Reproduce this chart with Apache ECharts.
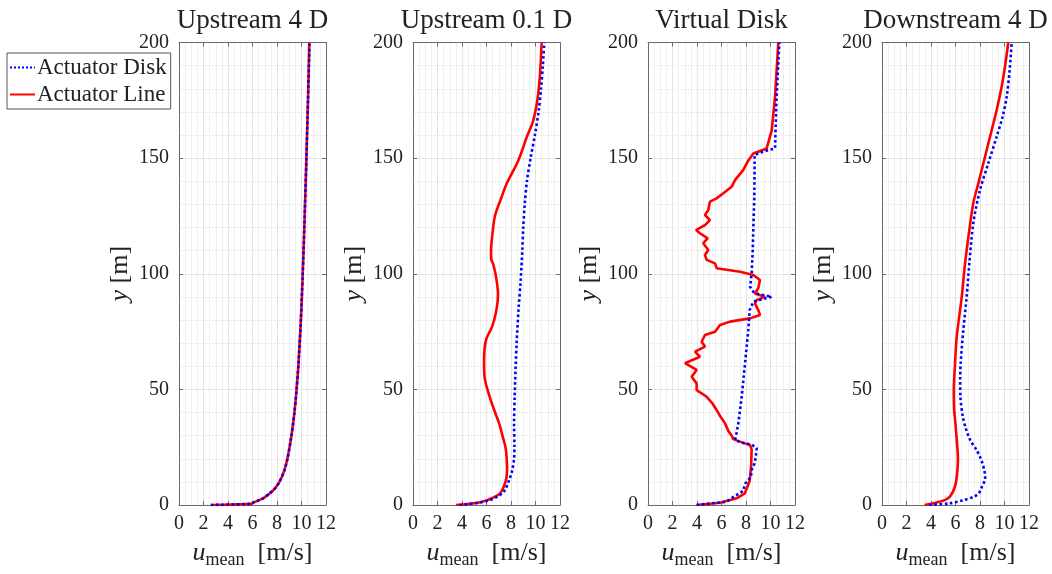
<!DOCTYPE html>
<html>
<head>
<meta charset="utf-8">
<script src="https://cdn.jsdelivr.net/npm/echarts@6/dist/echarts.min.js"></script>
<style>html,body{margin:0;padding:0;background:#fff}#c{width:1052px;height:574px}</style>
</head>
<body>
<div id="c"></div>
<script>
// ---------- data ----------
const panelTitles = ['Upstream 4 D', 'Upstream 0.1 D', 'Virtual Disk', 'Downstream 4 D'];
const xTicks = [0, 2, 4, 6, 8, 10, 12];
const yTicks = [0, 50, 100, 150, 200];

// Panel 1: Upstream 4 D
const up4_y    = [0, 0.5, 1, 2, 3, 5, 7, 10, 15, 20, 30, 40, 50, 60, 80, 100, 120, 150, 175, 200];
const up4_line = [2.6, 5.9, 6.05, 6.5, 6.9, 7.4, 7.8, 8.2, 8.6, 8.85, 9.18, 9.42, 9.6, 9.74, 9.95, 10.1, 10.23, 10.4, 10.53, 10.64];
const up4_disk = [2.6, 5.9, 6.05, 6.5, 6.9, 7.4, 7.8, 8.2, 8.6, 8.85, 9.18, 9.42, 9.6, 9.74, 9.95, 10.1, 10.23, 10.4, 10.53, 10.66];

// Panel 2: Upstream 0.1 D
const up01_line_y = [0, 1, 2.2, 5, 10, 15, 20, 25, 30, 35, 40, 47, 55, 62, 68, 72, 77, 84, 91, 98, 104, 106, 110, 117, 125, 133, 139, 149, 159, 166, 175, 185, 200];
const up01_line_u = [3.5, 5.3, 6.1, 7.1, 7.55, 7.68, 7.65, 7.55, 7.3, 7.05, 6.7, 6.25, 5.85, 5.8, 5.85, 6.0, 6.45, 6.8, 6.94, 6.8, 6.56, 6.4, 6.37, 6.48, 6.69, 7.22, 7.65, 8.6, 9.28, 9.8, 10.15, 10.35, 10.5];
const up01_disk_y = [0, 1, 2, 3.6, 6, 10.8, 15, 20, 25, 35, 47, 60, 70, 85, 97, 110, 120, 130, 140, 150, 160, 170, 180, 190, 200];
const up01_disk_u = [3.8, 5.4, 6.2, 6.9, 7.45, 7.85, 8.1, 8.25, 8.28, 8.25, 8.3, 8.38, 8.46, 8.62, 8.79, 8.92, 9.0, 9.12, 9.3, 9.6, 9.95, 10.25, 10.45, 10.6, 10.72];

// Panel 3: Virtual Disk
const vd_line_y = [0, 1, 2.9, 5, 10.5, 17, 24, 25.9, 27.4, 28.5, 30, 32, 35.3, 38.5, 41.1, 44, 46.8, 49.7, 52.6, 55.5, 58.4, 61.3, 64.1, 66.3, 68.5, 70.6, 73.5, 74.9, 77.8, 79.3, 80.7, 82.2, 84.3, 87.2, 88.6, 90.1, 91.5, 93.7, 97.3, 99.5, 100.9, 102.4, 104.5, 106, 108.1, 110.3, 113.2, 115.3, 117.5, 118.9, 121, 123.2, 125.4, 127.6, 131.2, 132.6, 134.8, 137.6, 140.5, 144.9, 149, 152, 154.2, 162, 176.6, 200];
const vd_line_u = [3.97, 5.88, 7.24, 7.9, 8.3, 8.42, 8.46, 8.33, 7.51, 6.96, 6.83, 6.56, 6.29, 5.88, 5.6, 5.25, 4.79, 3.97, 3.97, 3.56, 3.97, 3.02, 4.24, 3.84, 4.65, 4.38, 4.65, 5.47, 5.88, 6.69, 8.33, 9.14, 9.0, 8.73, 8.87, 9.55, 8.73, 9.0, 9.14, 8.6, 7.51, 5.6, 5.47, 4.79, 4.65, 4.92, 4.51, 4.87, 4.24, 3.92, 4.65, 5.06, 4.65, 4.92, 5.06, 5.6, 6.15, 6.83, 7.1, 7.78, 8.19, 8.6, 9.69, 10.1, 10.37, 10.64];
const vd_disk_y = [0, 1.4, 3.6, 6, 9.4, 12, 15.1, 18, 21, 24.5, 26, 27, 28.1, 31, 35.3, 46.8, 61.3, 75.7, 84.3, 87.9, 90.1, 91.2, 92.2, 94.4, 100.2, 110, 120, 133, 145, 151.4, 153, 154.2, 160, 176.6, 200];
const vd_disk_u = [3.97, 6.4, 7.0, 7.75, 7.95, 8.4, 8.46, 8.7, 8.8, 8.87, 8.5, 7.6, 7.1, 7.22, 7.37, 7.65, 7.92, 8.19, 8.3, 8.6, 10.1, 9.0, 8.6, 8.33, 8.46, 8.55, 8.6, 8.68, 8.7, 8.7, 9.5, 10.37, 10.4, 10.5, 10.72];

// Panel 4: Downstream 4 D
const dn4_line_y = [0, 1, 2.2, 4, 7.9, 12, 20, 27, 35, 42, 50, 60, 72.8, 90, 104.5, 118.9, 130.5, 139, 150.6, 162, 170.8, 181, 190, 200];
const dn4_line_u = [3.48, 4.4, 5.17, 5.6, 5.95, 6.1, 6.2, 6.12, 6.0, 5.88, 5.86, 5.95, 6.1, 6.51, 6.78, 7.13, 7.45, 7.86, 8.41, 8.95, 9.36, 9.77, 10.05, 10.31];
const dn4_disk_y = [0, 0.7, 2, 3.6, 5, 7.2, 10.8, 12.2, 15, 18, 20.2, 24, 28.1, 33, 38.2, 46.8, 55, 61.3, 75.7, 90.1, 104.5, 121.8, 136.2, 147.8, 159.3, 168, 176.6, 188, 200];
const dn4_disk_u = [3.85, 5.5, 6.6, 7.5, 7.9, 8.1, 8.4, 8.42, 8.35, 8.2, 8.05, 7.7, 7.2, 6.85, 6.6, 6.4, 6.38, 6.42, 6.64, 6.91, 7.13, 7.45, 8.0, 8.68, 9.36, 9.85, 10.18, 10.42, 10.59];

// ---------- build ----------
const FONT = '"Liberation Serif", "DejaVu Serif", serif';
const lefts = [179, 413, 648, 882];
const gw = 147, gtop = 42.5, gh = 462.5;
const AXC = '#6a6a6a';

function pairs(u, y) { return u.map((v, i) => [v, y[i]]); }

const panels = [
  { line: pairs(up4_line, up4_y), disk: pairs(up4_disk, up4_y), smooth: true },
  { line: pairs(up01_line_u, up01_line_y), disk: pairs(up01_disk_u, up01_disk_y), smooth: true },
  { line: pairs(vd_line_u, vd_line_y), disk: pairs(vd_disk_u, vd_disk_y), smooth: false },
  { line: pairs(dn4_line_u, dn4_line_y), disk: pairs(dn4_disk_u, dn4_disk_y), smooth: true }
];

const grid = [], xAxis = [], yAxis = [], series = [], graphic = [];
panels.forEach((p, i) => {
  grid.push({ left: lefts[i], top: gtop, width: gw, height: gh, containLabel: false });
  xAxis.push({
    gridIndex: i, type: 'value', min: xTicks[0], max: xTicks[xTicks.length - 1], interval: 2,
    axisLine: { show: true, onZero: false, lineStyle: { color: AXC, width: 1 } },
    axisTick: { show: true, inside: true, length: 4, lineStyle: { color: AXC } },
    axisLabel: { fontFamily: FONT, fontSize: 20, color: '#222', margin: 9 },
    splitLine: { show: true, lineStyle: { color: '#e4e4e4', width: 1 } },
    minorTick: { show: false, splitNumber: 4 },
    minorSplitLine: { show: true, lineStyle: { color: '#e2e2e2', type: 'dotted', width: 1 } },
    name: '{u|u}{s|mean}{r|  [m/s]}', nameLocation: 'middle', nameGap: 32,
    nameTextStyle: {
      rich: {
        u: { fontFamily: FONT, fontStyle: 'italic', fontSize: 26, color: '#222', lineHeight: 32 },
        s: { fontFamily: FONT, fontSize: 18, color: '#222', lineHeight: 18, verticalAlign: 'bottom' },
        r: { fontFamily: FONT, fontSize: 26, color: '#222', lineHeight: 32 }
      }
    }
  });
  xAxis.push({
    gridIndex: i, type: 'value', position: 'top', min: 0, max: 12, interval: 2,
    axisLine: { show: true, onZero: false, lineStyle: { color: AXC, width: 1 } },
    axisTick: { show: true, inside: true, length: 4, lineStyle: { color: AXC } },
    axisLabel: { show: false }, splitLine: { show: false }
  });
  yAxis.push({
    gridIndex: i, type: 'value', min: yTicks[0], max: yTicks[yTicks.length - 1], interval: 50,
    axisLine: { show: true, onZero: false, lineStyle: { color: AXC, width: 1 } },
    axisTick: { show: true, inside: true, length: 4, lineStyle: { color: AXC } },
    axisLabel: { fontFamily: FONT, fontSize: 20, color: '#222', margin: 10 },
    splitLine: { show: true, lineStyle: { color: '#e4e4e4', width: 1 } },
    minorTick: { show: false, splitNumber: 5 },
    minorSplitLine: { show: true, lineStyle: { color: '#e2e2e2', type: 'dotted', width: 1 } },
    name: '{i|y} [m]', nameLocation: 'middle', nameGap: 46, nameRotate: 90,
    nameTextStyle: {
      fontFamily: FONT, fontSize: 26, color: '#222',
      rich: { i: { fontFamily: FONT, fontStyle: 'italic', fontSize: 26, color: '#222' } }
    }
  });
  yAxis.push({
    gridIndex: i, type: 'value', position: 'right', min: 0, max: 200, interval: 50,
    axisLine: { show: true, onZero: false, lineStyle: { color: AXC, width: 1 } },
    axisTick: { show: true, inside: true, length: 4, lineStyle: { color: AXC } },
    axisLabel: { show: false }, splitLine: { show: false }
  });
  series.push({
    name: 'Actuator Line', type: 'line', xAxisIndex: 2 * i, yAxisIndex: 2 * i,
    data: p.line, symbol: 'none', smooth: p.smooth ? 0.3 : false,
    lineStyle: { color: '#ff0000', width: 2.6, type: 'solid' }, itemStyle: { color: '#ff0000' },
    z: 3, animation: false
  });
  series.push({
    name: 'Actuator Disk', type: 'line', xAxisIndex: 2 * i, yAxisIndex: 2 * i,
    data: p.disk, symbol: 'none', smooth: p.smooth ? 0.3 : false,
    lineStyle: { color: '#0000ff', width: 2.6, type: 'dotted' }, itemStyle: { color: '#0000ff' },
    z: 4, animation: false
  });
  graphic.push({
    type: 'text', x: lefts[i] + gw / 2, y: 21,
    style: { text: panelTitles[i], font: '27px ' + FONT, fill: '#222', textAlign: 'center', textVerticalAlign: 'middle' }
  });
});

const chart = echarts.init(document.getElementById('c'), null, { renderer: 'canvas' });
chart.setOption({
  backgroundColor: '#fff',
  animation: false,
  grid, xAxis, yAxis, series, graphic,
  legend: {
    data: ['Actuator Disk', 'Actuator Line'],
    orient: 'vertical', left: 7, top: 53,
    backgroundColor: '#fff', borderColor: '#555', borderWidth: 1,
    padding: [3, 4, 3, 2], itemGap: 4, itemWidth: 25, itemHeight: 14,
    itemStyle: { opacity: 0 },
    textStyle: { fontFamily: FONT, fontSize: 23, color: '#222', padding: [0, 0, 0, -3] },
    z: 10
  }
});
</script>
</body>
</html>
